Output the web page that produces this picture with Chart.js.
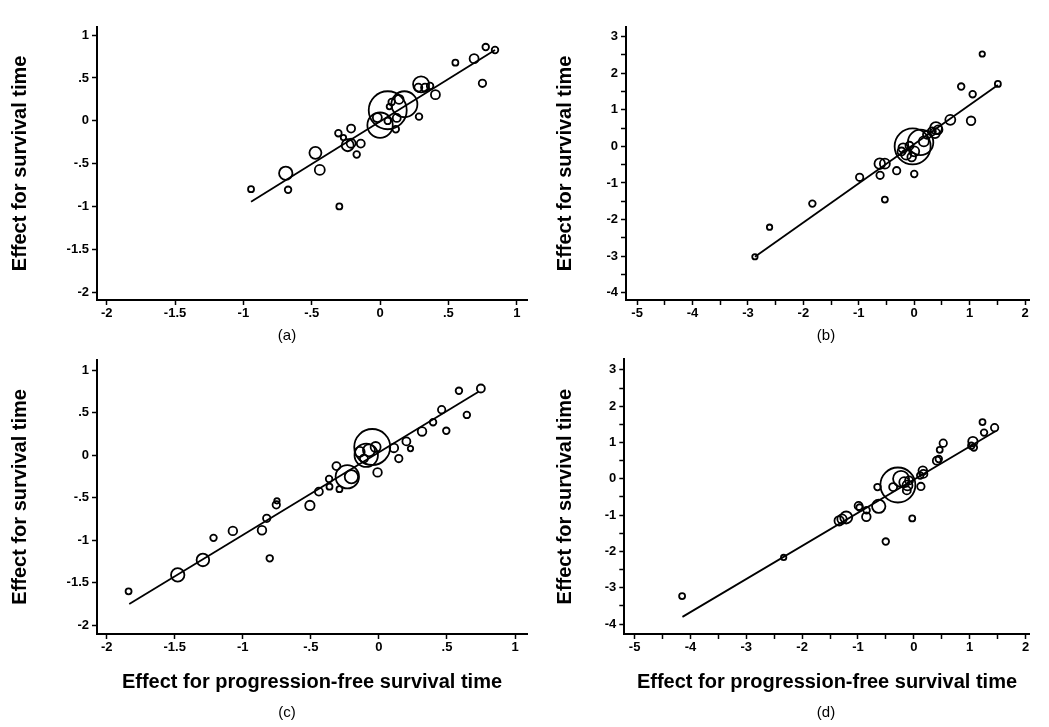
<!DOCTYPE html>
<html><head><meta charset="utf-8">
<script src="https://cdn.jsdelivr.net/npm/chart.js@4.4.1/dist/chart.umd.min.js"></script>
<style>
html,body{margin:0;padding:0;background:#fff;overflow:hidden;width:1049px;height:727px;position:relative;}
canvas{position:absolute;}
</style></head><body>
<canvas id="ca" width="560" height="363" style="left:0;top:0"></canvas>
<canvas id="cb" width="509" height="363" style="left:540px;top:0"></canvas>
<canvas id="cc" width="560" height="387" style="left:0;top:340px"></canvas>
<canvas id="cd" width="509" height="387" style="left:540px;top:340px"></canvas>
<script>
// ---------- tick values and labels ----------
const ticksHalf = [-2, -1.5, -1, -0.5, 0, 0.5, 1];
const labelsHalf = ['-2', '-1.5', '-1', '-.5', '0', '.5', '1'];
const ticksWideX = [-5, -4.5, -4, -3.5, -3, -2.5, -2, -1.5, -1, -0.5, 0, 0.5, 1, 1.5, 2];
const labelsWideX = ['-5', '', '-4', '', '-3', '', '-2', '', '-1', '', '0', '', '1', '', '2'];
const ticksWideY = [-4, -3.5, -3, -2.5, -2, -1.5, -1, -0.5, 0, 0.5, 1, 1.5, 2, 2.5, 3];
const labelsWideY = ['-4', '', '-3', '', '-2', '', '-1', '', '0', '', '1', '', '2', '', '3'];

// ---------- panel (a) ----------
const xA = [-0.944,-0.690,-0.673,-0.473,-0.441,-0.298,-0.305,-0.212,-0.237,-0.212,-0.141,-0.171,-0.268,0.000,0.056,-0.020,0.056,0.122,0.115,0.085,0.139,0.178,0.068,0.285,0.300,0.280,0.329,0.366,0.405,0.551,0.688,0.749,0.773,0.841];
const yA = [-0.795,-0.609,-0.802,-0.372,-0.570,-0.996,-0.143,-0.089,-0.283,-0.260,-0.264,-0.391,-0.194,-0.050,0.124,0.039,0.000,0.035,-0.097,0.221,0.252,0.194,0.167,0.050,0.426,0.388,0.388,0.407,0.306,0.678,0.725,0.438,0.860,0.826];
const rA = [3,6.7,3.3,6,5,3,3.3,4,6,4.5,4,3.3,2.7,12.7,19,4.5,3.3,4,3.3,3.3,4.5,13,2.7,3.3,8,4,4,3.3,4.5,3,4.5,3.7,3.3,3.3];
const fitAx = [-0.944, 0.841];
const fitAy = [-0.942, 0.826];

// ---------- panel (b) ----------
const xB = [-2.874,-2.61,-1.838,-0.985,-0.622,-0.53,-0.616,-0.53,-0.317,0,-0.029,0.115,-0.2,-0.23,-0.144,-0.046,0,-0.086,0.173,0.23,0.317,0.392,0.374,0.432,0.651,1.025,1.054,0.847,1.227,1.509];
const yB = [-3.018,-2.21,-1.564,-0.845,-0.473,-0.473,-0.79,-1.455,-0.664,-0.755,0,0.109,-0.045,-0.14,-0.227,-0.29,-0.136,0.018,0.136,0.318,0.409,0.5,0.364,0.455,0.727,0.70,1.427,1.636,2.527,1.709];
const rB = [2.7,2.7,3.3,3.7,5.3,5,3.7,3,3.7,3.3,18,12.7,4.7,4,5,4.3,5,4,5,4,4,6,5,4.3,5,4.3,3.3,3.3,2.7,3];
const fitBx = [-2.874, 1.509];
const fitBy = [-3.018, 1.68];

// ---------- panel (c) ----------
const xC = [-1.839,-1.478,-1.293,-1.215,-1.073,-0.859,-0.824,-0.802,-0.754,-0.749,-0.507,-0.441,-0.366,-0.363,-0.312,-0.29,-0.232,-0.202,-0.01,-0.049,-0.093,-0.141,-0.073,-0.024,-0.11,0.11,0.146,0.202,0.232,0.317,0.398,0.461,0.495,0.588,0.646,0.749];
const yC = [-1.603,-1.409,-1.233,-0.973,-0.891,-0.883,-0.743,-1.214,-0.584,-0.537,-0.591,-0.428,-0.28,-0.37,-0.128,-0.40,-0.253,-0.253,-0.202,0.097,0.0,0.039,0.058,0.097,-0.039,0.086,-0.039,0.163,0.078,0.28,0.389,0.537,0.288,0.759,0.475,0.786];
const rC = [3,6.7,6.3,3.3,4.3,4.3,3.7,3.3,3.7,2.7,4.7,4,3.3,3,4,3,11.7,6.7,4.3,18,11.7,5,6,5,4,4.3,3.7,4,2.7,4.3,3.3,3.7,3.3,3.3,3.3,4];
const fitCx = [-1.834, 0.732];
const fitCy = [-1.751, 0.747];

// ---------- panel (d) ----------
const xD = [-4.149,-2.331,-1.337,-1.286,-1.211,-0.989,-0.971,-0.851,-0.846,-0.629,-0.651,-0.503,-0.286,-0.371,-0.229,-0.171,-0.114,-0.086,-0.126,-0.029,0.126,0.16,0.171,0.114,0.411,0.446,0.463,0.526,1.029,1.057,1.074,1.229,1.257,1.446];
const yD = [-3.227,-2.164,-1.155,-1.109,-1.064,-0.745,-0.791,-1.045,-0.864,-0.755,-0.227,-1.727,-0.17,-0.227,0,-0.091,-0.182,-0.045,-0.318,-1.091,-0.209,0.227,0.136,0.091,0.5,0.545,0.8,0.982,0.909,1.027,0.864,1.564,1.273,1.409];
const rD = [3,2.7,4.7,4.7,6,4,3.3,4.3,3.3,6.7,3.3,3.3,17.5,4,8,5,5,4,4,3,3.7,4.3,4,3.3,4,3.3,3,3.7,3.3,4.7,3.3,3,3.3,3.7];
const fitDx = [-4.143, 1.469];
const fitDy = [-3.80, 1.318];

const yTitleText = 'Effect for survival time';
const xTitleText = 'Effect for progression-free survival time';

// ---------- chart setup ----------
Chart.defaults.font.family = "'Liberation Sans', Arial, Helvetica, sans-serif";
Chart.defaults.color = '#000';

const panelLabel = {
  id: 'panelLabel',
  afterDraw(chart, args, opts) {
    const ctx = chart.ctx;
    ctx.save();
    ctx.font = opts.font;
    ctx.fillStyle = '#000';
    ctx.textAlign = 'center';
    ctx.textBaseline = 'middle';
    ctx.fillText(opts.text, opts.x, opts.y);
    ctx.restore();
  }
};

function bubbles(xs, ys, rs) { return xs.map((x, i) => ({ x: x, y: ys[i], r: rs[i] })); }
function segment(xs, ys) { return xs.map((x, i) => ({ x: x, y: ys[i] })); }

function axis(min, max, ticks, labels, size, pad, title) {
  return {
    type: 'linear', min: min, max: max,
    afterBuildTicks: s => { s.ticks = ticks.map(v => ({ value: v })); },
    afterFit: s => { if (s.isHorizontal()) s.height = size; else s.width = size; },
    ticks: {
      autoSkip: false, maxRotation: 0, minRotation: 0, padding: pad,
      font: { size: 13, weight: 'bold' }, color: '#000',
      callback: (v, i) => labels[i]
    },
    grid: { drawOnChartArea: false, drawTicks: true, tickLength: 5, tickColor: '#000', tickWidth: 1.5 },
    border: { display: true, color: '#000', width: 2 },
    title: title || { display: false }
  };
}

function panel(id, c) {
  new Chart(document.getElementById(id), {
    type: 'bubble',
    data: {
      datasets: [
        { type: 'line', data: segment(c.fx, c.fy), borderColor: '#000', borderWidth: 1.8, pointRadius: 0, fill: false, tension: 0 },
        { data: bubbles(c.x, c.y, c.r), backgroundColor: 'rgba(0,0,0,0)', borderColor: '#000', borderWidth: 1.8, hoverRadius: 0 }
      ]
    },
    options: {
      responsive: false, animation: false, events: [],
      layout: { padding: c.pad },
      plugins: { legend: { display: false }, tooltip: { enabled: false }, panelLabel: c.label },
      scales: {
        x: axis(c.xmin, c.xmax, c.xt, c.xl, c.xH, 1, c.xTitle),
        y: axis(c.ymin, c.ymax, c.yt, c.yl, c.yW, 3, {
          display: true, text: yTitleText, font: { size: 20, weight: 'bold' }, color: '#000',
          padding: { top: c.yTitlePad, bottom: 0 }
        })
      }
    },
    plugins: [panelLabel]
  });
}

const xTitleBottom = { display: true, text: xTitleText, font: { size: 20, weight: 'bold' }, color: '#000', padding: { top: 0, bottom: 33 } };

panel('ca', {
  x: xA, y: yA, r: rA, fx: fitAx, fy: fitAy,
  xmin: -2.071, xmax: 1.075, ymin: -2.085, ymax: 1.097,
  xt: ticksHalf, xl: labelsHalf, yt: ticksHalf, yl: labelsHalf,
  pad: { left: 0, top: 26.7, right: 33, bottom: 0 }, yW: 97, xH: 63, yTitlePad: 8,
  label: { text: '(a)', x: 287, y: 336, font: "15px 'Liberation Sans', Arial, sans-serif" }
});
panel('cb', {
  x: xB, y: yB, r: rB, fx: fitBx, fy: fitBy,
  xmin: -5.2, xmax: 2.074, ymin: -4.2, ymax: 3.273,
  xt: ticksWideX, xl: labelsWideX, yt: ticksWideY, yl: labelsWideY,
  pad: { left: 0, top: 26.7, right: 2, bottom: 0 }, yW: 86, xH: 63, yTitlePad: 13,
  label: { text: '(b)', x: 286, y: 336, font: "15px 'Liberation Sans', Arial, sans-serif" }
});
panel('cc', {
  x: xC, y: yC, r: rC, fx: fitCx, fy: fitCy,
  xmin: -2.071, xmax: 1.088, ymin: -2.105, ymax: 1.124,
  xt: ticksHalf, xl: labelsHalf, yt: ticksHalf, yl: labelsHalf,
  pad: { left: 0, top: 16, right: 33, bottom: 0 }, yW: 97, xH: 93, yTitlePad: 8,
  xTitle: xTitleBottom,
  label: { text: '(c)', x: 287, y: 373, font: "15px 'Liberation Sans', Arial, sans-serif" }
});
panel('cd', {
  x: xD, y: yD, r: rD, fx: fitDx, fy: fitDy,
  xmin: -5.184, xmax: 2.074, ymin: -4.272, ymax: 3.291,
  xt: ticksWideX, xl: labelsWideX, yt: ticksWideY, yl: labelsWideY,
  pad: { left: 0, top: 16, right: 2, bottom: 0 }, yW: 84.3, xH: 93, yTitlePad: 13,
  xTitle: xTitleBottom,
  label: { text: '(d)', x: 286, y: 373, font: "15px 'Liberation Sans', Arial, sans-serif" }
});
</script>
</body></html>
